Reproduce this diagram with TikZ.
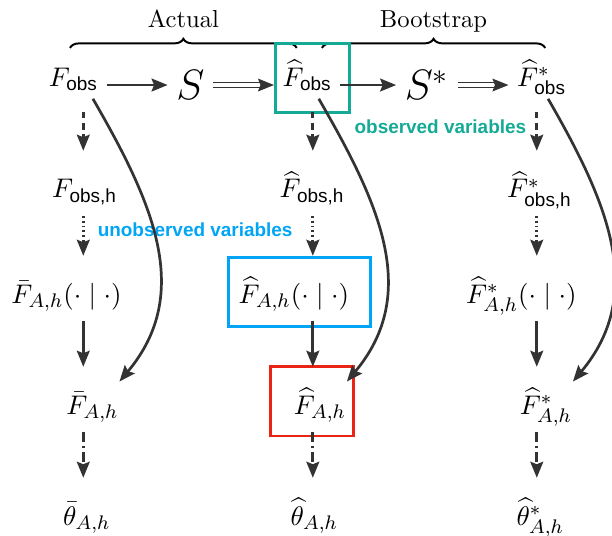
\documentclass[tikz,border=0pt]{standalone}
\usepackage{amsmath, amssymb}
\usepackage{fontspec}
\setsansfont{Liberation Sans}
\usepackage{xcolor}
\usepackage{tikz}
\usetikzlibrary{positioning, arrows.meta, decorations.pathreplacing}

\definecolor{obsteal}{RGB}{20,170,150}
\definecolor{unobsblue}{RGB}{0,165,245}
\definecolor{keyred}{RGB}{235,35,20}
\definecolor{arrowgray}{RGB}{51,51,51}

\begin{document}
\begin{tikzpicture}[
  >={Stealth[length=6.5pt, width=5.2pt, inset=1pt]},
  var/.style={anchor=base, font=\fontsize{11}{13}\selectfont, text height=13pt, text depth=5pt, inner ysep=0pt},
  samp/.style={font=\LARGE},
  flow/.style={->, line width=1.1pt, draw=arrowgray},
  twin/.style={->, double=white, double distance=1.3pt, line width=0.5pt, draw=arrowgray},
  down/.style={flow, shorten <=2pt, shorten >=6pt},
  dashline/.style={dash pattern=on 2.5pt off 2pt, shorten <=5.5pt},
  dotline/.style={dash pattern=on 0.8pt off 1.2pt},
  dashdot/.style={dash pattern=on 4pt off 1.6pt on 1.2pt off 1.6pt},
  brace/.style={decorate, decoration={brace, amplitude=3.7pt}, line width=0.8pt},
  bracelabel/.style={midway, anchor=base, yshift=8.5pt},
  box/.style={draw=#1, line width=1.2pt, inner sep=0pt},
  note/.style={anchor=west, inner sep=0pt, font=\sffamily\bfseries\fontsize{7.7}{9}\selectfont}
]
\useasboundingbox (0,0) rectangle (8.745,7.645);

\draw[brace] (1.00,6.96) -- (4.24,6.96) node[bracelabel] (actual) {Actual};
\draw[brace] (4.60,6.96) -- (7.79,6.96) node[bracelabel] (boot) {Bootstrap};

\node[box=obsteal, minimum width=1.06cm, minimum height=0.98cm] (obsbox) at (4.46,6.53) {};
\node[box=unobsblue, minimum width=2.02cm, minimum height=0.98cm] (unobsbox) at (4.28,3.47) {};
\node[box=keyred, minimum width=1.18cm, minimum height=0.99cm] (keybox) at (4.46,1.91) {};

\node[var] (Fobs) at (1.05,6.416) {$F_{\textsf{obs}}$};
\node[samp] (S) at (2.72,6.43) {$S$};
\node[var] (Fhobs) at (4.39,6.416) {$\widehat{F}_{\textsf{obs}}$};
\node[samp] (Sstar) at (6.10,6.43) {$S^*$};
\node[var] (Fsobs) at (7.74,6.416) {$\widehat{F}^*_{\textsf{obs}}$};

\node[var] (Fobsh) at (1.21,4.816) {$F_{\textsf{obs,h}}$};
\node[var] (Fhobsh) at (4.46,4.816) {$\widehat{F}_{\textsf{obs,h}}$};
\node[var] (Fsobsh) at (7.71,4.816) {$\widehat{F}^*_{\textsf{obs,h}}$};

\node[var] (Fcond) at (0.95,3.315) {$\bar{F}_{A,h}(\cdot\mid\cdot)$};
\node[var] (Fhcond) at (4.20,3.315) {$\widehat{F}_{A,h}(\cdot\mid\cdot)$};
\node[var] (Fscond) at (7.45,3.315) {$\widehat{F}^*_{A,h}(\cdot\mid\cdot)$};

\node[var] (FAh) at (1.32,1.729) {$\bar{F}_{A,h}$};
\node[var] (FhAh) at (4.57,1.729) {$\widehat{F}_{A,h}$};
\node[var] (FsAh) at (7.80,1.729) {$\widehat{F}^*_{A,h}$};

\node[var] (thetaAh) at (1.24,0.143) {$\bar{\theta}_{A,h}$};
\node[var] (thetahAh) at (4.49,0.143) {$\widehat{\theta}_{A,h}$};
\node[var] (thetasAh) at (7.72,0.143) {$\widehat{\theta}^*_{A,h}$};

\node[note, text=obsteal] (obslabel) at (5.06,5.83) {observed variables};
\node[note, text=unobsblue] (unobslabel) at (1.39,4.36) {unobserved variables};

\coordinate (colA) at (1.19,0);
\coordinate (colB) at (4.47,0);
\coordinate (colC) at (7.67,0);

\draw[flow] (Fobs.east |- S) -- (S);
\draw[twin] (S) -- (S -| Fhobs.west);
\draw[flow] (Fhobs.east |- Sstar) -- (Sstar);
\draw[twin] (Sstar) -- (Sstar -| Fsobs.west);

\draw[down, dashline] (Fobs.south -| colA) -- (Fobsh.north -| colA);
\draw[down, dotline] (Fobsh.south -| colA) -- (Fcond.north -| colA);
\draw[down] (Fcond.south -| colA) -- (FAh.north -| colA);
\draw[down, dashdot] (FAh.south -| colA) -- (thetaAh.north -| colA);

\draw[down, dashline] (Fhobs.south -| colB) -- (Fhobsh.north -| colB);
\draw[down, dotline] (Fhobsh.south -| colB) -- (Fhcond.north -| colB);
\draw[down] (Fhcond.south -| colB) -- (FhAh.north -| colB);
\draw[down, dashdot] (FhAh.south -| colB) -- (thetahAh.north -| colB);

\draw[down, dashline] (Fsobs.south -| colC) -- (Fsobsh.north -| colC);
\draw[down, dotline] (Fsobsh.south -| colC) -- (Fscond.north -| colC);
\draw[down] (Fscond.south -| colC) -- (FsAh.north -| colC);
\draw[down, dashdot] (FsAh.south -| colC) -- (thetasAh.north -| colC);

\draw[flow] ([xshift=7.9pt]Fobs.south) to[out=-60, in=50, looseness=1.05] ([xshift=11pt]FAh.north);
\draw[flow] ([xshift=4.7pt]Fhobs.south) to[out=-60, in=50, looseness=1.05] ([xshift=11pt]FhAh.north);
\draw[flow] ([xshift=2.6pt]Fsobs.south) to[out=-60, in=50, looseness=1.05] ([xshift=11pt]FsAh.north);
\end{tikzpicture}
\end{document}
